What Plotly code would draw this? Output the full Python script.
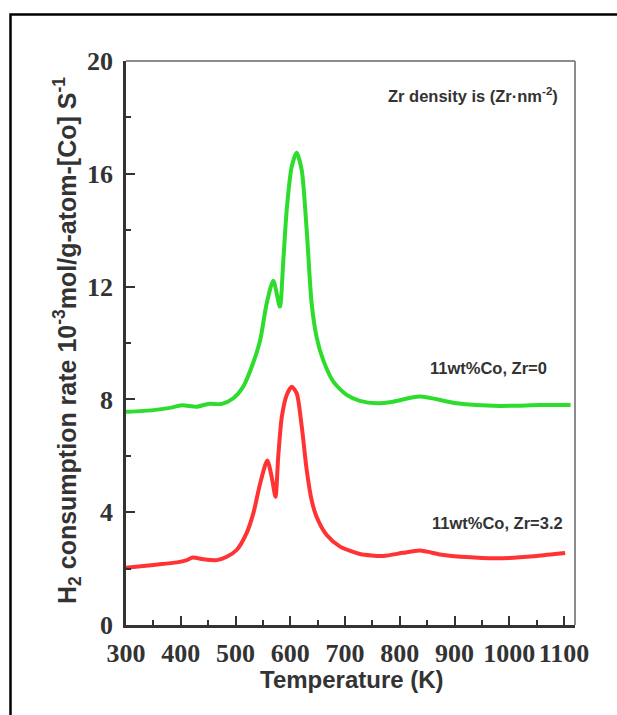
import plotly.graph_objects as go

# ---- data ----
temp_green = [300, 350, 380, 402, 429, 450, 475, 496, 514, 532, 545, 557, 569, 581, 587, 593.5, 602.6,
              611.7, 620.9, 630, 639, 648, 660, 678.6, 703, 727, 758, 788, 837, 904, 983, 1056, 1112]
rate_green = [7.56, 7.62, 7.70, 7.79, 7.74, 7.84, 7.84, 8.04, 8.45, 9.28, 10.1, 11.41, 12.21, 11.29, 12.83,
              14.72, 16.25, 16.75, 16.13, 14.0, 11.41, 10.22, 9.40, 8.63, 8.16, 7.95, 7.86, 7.92, 8.10,
              7.86, 7.77, 7.80, 7.80]

temp_red = [300, 350, 393, 411, 422, 441, 466, 484, 502, 520, 532.5, 545, 558, 566, 573, 578, 584.6,
            593.5, 602.6, 611.7, 621, 630, 639, 648, 666.5, 691, 727, 770, 806, 837, 880, 950, 1000,
            1050, 1102]
rate_red = [2.03, 2.13, 2.22, 2.30, 2.39, 2.33, 2.30, 2.42, 2.66, 3.25, 3.96, 5.02, 5.83, 5.26, 4.55, 5.97,
            7.39, 8.16, 8.45, 8.22, 7.03, 5.50, 4.43, 3.84, 3.19, 2.78, 2.52, 2.45, 2.56, 2.64, 2.48,
            2.38, 2.38, 2.45, 2.55]

x_ticks = [300, 400, 500, 600, 700, 800, 900, 1000, 1100]
y_ticks = [0, 4, 8, 12, 16, 20]

label_green = "11wt%Co, Zr=0"
label_red = "11wt%Co, Zr=3.2"
note_text = "Zr density is (Zr·nm<sup>-2</sup>)"

DARK = "#333333"
W, H = 617, 715
L, R, T, B = 126, 42, 61, 90
PW, PH = W - L - R, H - T - B


def px_x(p):
    return (p - L) / PW


def px_y(p):
    return (H - B - p) / PH


fig = go.Figure()
fig.add_trace(go.Scatter(x=temp_green, y=rate_green, mode="lines",
                         line=dict(color="#2ddc2d", width=4, shape="spline", smoothing=0.7),
                         showlegend=False, hoverinfo="skip"))
fig.add_trace(go.Scatter(x=temp_red, y=rate_red, mode="lines",
                         line=dict(color="#ff3333", width=4, shape="spline", smoothing=0.7),
                         showlegend=False, hoverinfo="skip"))

tickfont = dict(family="Liberation Serif", size=26, color=DARK, weight="bold")

fig.update_xaxes(range=[300, 1120], tickvals=x_ticks, ticktext=[str(v) for v in x_ticks],
                 ticks="inside", ticklen=9, tickwidth=2, tickcolor=DARK,
                 minor=dict(dtick=50, tick0=300, ticks="inside", ticklen=5, tickwidth=2, tickcolor=DARK),
                 showline=True, linewidth=2.5, linecolor=DARK, showgrid=False, zeroline=False,
                 tickfont=tickfont, ticklabelstandoff=3)
fig.update_yaxes(range=[0, 20], tickvals=y_ticks, ticktext=[str(v) for v in y_ticks],
                 ticks="inside", ticklen=9, tickwidth=2, tickcolor=DARK,
                 minor=dict(dtick=2, tick0=0, ticks="inside", ticklen=5, tickwidth=2, tickcolor=DARK),
                 showline=True, linewidth=2.5, linecolor=DARK, showgrid=False, zeroline=False,
                 tickfont=tickfont, ticklabelstandoff=5)

sans = dict(family="Liberation Sans", color=DARK, weight="bold")

annotations = [
    dict(x=0.503, y=px_y(664), xref="paper", yref="paper", text="Temperature (K)", showarrow=False,
         xanchor="center", yanchor="top", font=dict(size=24, **sans)),
    dict(x=px_x(67), y=px_y(341), xref="paper", yref="paper",
         text="H<sub>2</sub> consumption rate 10<sup>-3</sup>mol/g-atom-[Co] S<sup>-1</sup>",
         showarrow=False, textangle=-90, xanchor="center", yanchor="middle",
         font=dict(size=25, **sans)),
    dict(x=1092, y=18.8, xref="x", yref="y", text=note_text, showarrow=False,
         xanchor="right", yanchor="middle", font=dict(size=16.5, **sans)),
    dict(x=1072, y=9.1, xref="x", yref="y", text=label_green, showarrow=False,
         xanchor="right", yanchor="middle", font=dict(size=16.5, **sans)),
    dict(x=1101, y=3.62, xref="x", yref="y", text=label_red, showarrow=False,
         xanchor="right", yanchor="middle", font=dict(size=16.5, **sans)),
]

shapes = [
    # top and right plot borders (gray)
    dict(type="line", xref="paper", yref="paper", x0=0, x1=1, y0=1, y1=1,
         line=dict(color="#8c8c8c", width=2)),
    dict(type="line", xref="paper", yref="paper", x0=1, x1=1, y0=0, y1=1,
         line=dict(color="#8c8c8c", width=2)),
    # outer black frame
    dict(type="rect", xref="paper", yref="paper", x0=px_x(10.5), x1=px_x(640),
         y0=px_y(740), y1=px_y(14.5), line=dict(color="black", width=2.5), layer="above"),
]

fig.update_layout(width=W, height=H, margin=dict(l=L, r=R, t=T, b=B, autoexpand=False),
                  paper_bgcolor="white", plot_bgcolor="white",
                  annotations=annotations, shapes=shapes, showlegend=False)

fig.write_html("out.html")
